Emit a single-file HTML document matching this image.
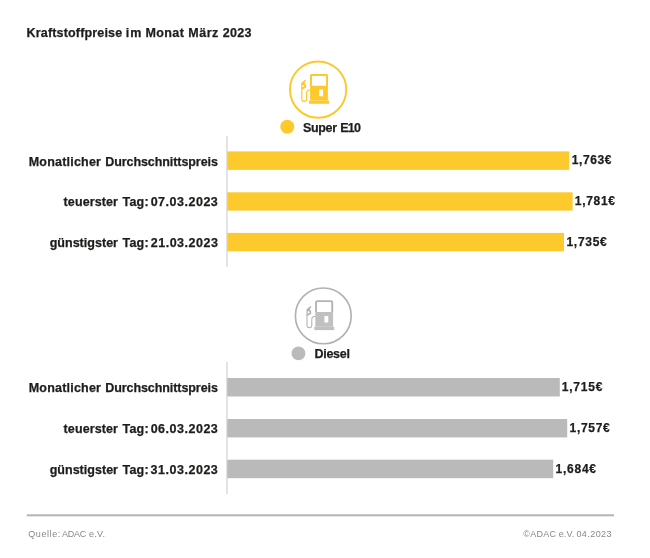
<!DOCTYPE html>
<html lang="de">
<head>
<meta charset="utf-8">
<title>Kraftstoffpreise im Monat März 2023</title>
<style>
html,body{margin:0;padding:0;background:#fff;}
body{width:650px;height:558px;position:relative;overflow:hidden;font-family:"Liberation Sans",sans-serif;color:#1d1d1b;}
.w{position:absolute;white-space:pre;font-weight:bold;line-height:1;font-size:12.5px;-webkit-text-stroke:0.25px #1d1d1b;}
.row,.title,.legend,.foot{position:static;margin:0;font-size:inherit;}
.w.vl{font-size:12.0px;}
.w.ft{font-weight:normal;font-size:9.0px;color:#888888;-webkit-text-stroke:0;}
svg{position:absolute;left:0;top:0;}
</style>
</head>
<body>
<h1 class="title"><span class="w ti" style="left:26.56px;top:27px;letter-spacing:0.167px">Kraftstoffpreise </span><span class="w ti" style="left:125.73px;top:27px;letter-spacing:1.151px">im </span><span class="w ti" style="left:145.46px;top:27px;letter-spacing:0.393px">Monat </span><span class="w ti" style="left:188.26px;top:27px;letter-spacing:0.514px">März </span><span class="w ti" style="left:222.85px;top:27px;letter-spacing:0.282px">2023 </span></h1>

<svg width="650" height="558" viewBox="0 0 650 558">
<rect x="226.200" y="136" width="1.500" height="131" fill="#dbdbde"/>
<rect x="226.200" y="362" width="1.500" height="132" fill="#dbdbde"/>
<g fill="#fdca2e">
<rect x="227.300" y="151.400" width="341.900" height="18.500"/>
<rect x="227.300" y="192.300" width="345.300" height="18.300"/>
<rect x="227.300" y="232.900" width="336.700" height="18.400"/>
<circle cx="287.300" cy="126.800" r="7.050"/>
</g>
<g fill="#bababa">
<rect x="227.300" y="378" width="332.500" height="18.500"/>
<rect x="227.300" y="419" width="339.900" height="18.400"/>
<rect x="227.300" y="459.700" width="325.900" height="18.500"/>
<circle cx="298.450" cy="353.400" r="6.950"/>
</g>
<rect x="26.800" y="514.300" width="587.200" height="2" fill="#b4b4b4"/>
<g transform="translate(318.1 89.6)">
<circle r="28.15" fill="none" stroke="#fdc72a" stroke-width="1.9"/>
<path fill="#fdca2e" fill-rule="evenodd" d="M-6.2 -15.500H8a1.800 1.800 0 0 1 1.800 1.800V10.900H-8V-13.700a1.800 1.800 0 0 1 1.800 -1.800zM-6.400 -13.900V-3.900H8.200V-13.900zM1.100 0V6.700H5V0z"/>
<path fill="#fdc72a" d="M-6.200 -15.500H8a1.800 1.800 0 0 1 1.800 1.800V-3.900H8.200V-13.900H-6.400V-3.900H-8V-13.700a1.800 1.800 0 0 1 1.800 -1.800z"/>
<rect x="-9" y="10.900" width="19.900" height="3.300" fill="#fdca2e"/>
<path fill="none" stroke="#fdc72a" stroke-width="1.15" stroke-linecap="round" stroke-linejoin="round" d="M-8 0.400C-10.600 0.400 -11.500 1.500 -11.500 3.600V9.400A2.400 2.400 0 0 1 -16.300 9.400V-1"/>
<path fill="#fdc72a" stroke="#fdc72a" stroke-width="1.15" stroke-linejoin="round" stroke-linecap="round" d="M-16.300 -1V-6L-15.600 -6.900L-12.600 -9.300L-14.200 -6.600L-12.600 -4.300V-2.400L-15 -1z"/>
<path fill="#fff" d="M-15.600 -4.700L-14.100 -4.700L-13.600 -3L-15.600 -2.200z"/>
</g>
<g transform="translate(323.3 315.9)">
<circle r="27.9" fill="none" stroke="#b2b2b2" stroke-width="1.65"/>
<path fill="#c0c0c0" fill-rule="evenodd" d="M-6.2 -15.500H8a1.800 1.800 0 0 1 1.800 1.800V10.900H-8V-13.700a1.800 1.800 0 0 1 1.800 -1.800zM-6.400 -13.900V-3.900H8.200V-13.900zM1.100 0V6.700H5V0z"/>
<path fill="#b2b2b2" d="M-6.200 -15.500H8a1.800 1.800 0 0 1 1.800 1.800V-3.900H8.200V-13.900H-6.400V-3.900H-8V-13.700a1.800 1.800 0 0 1 1.800 -1.800z"/>
<rect x="-9" y="10.900" width="19.900" height="3.300" fill="#c0c0c0"/>
<path fill="none" stroke="#b2b2b2" stroke-width="1.05" stroke-linecap="round" stroke-linejoin="round" d="M-8 0.400C-10.600 0.400 -11.500 1.500 -11.500 3.600V9.400A2.400 2.400 0 0 1 -16.300 9.400V-1"/>
<path fill="#b2b2b2" stroke="#b2b2b2" stroke-width="1.05" stroke-linejoin="round" stroke-linecap="round" d="M-16.300 -1V-6L-15.600 -6.900L-12.600 -9.300L-14.200 -6.600L-12.600 -4.300V-2.400L-15 -1z"/>
<path fill="#fff" d="M-15.600 -4.700L-14.100 -4.700L-13.600 -3L-15.600 -2.200z"/>
</g>
</svg>

<div class="legend"><span class="w lg" style="left:303.08px;top:122px;letter-spacing:-0.375px">Super </span><span class="w lg" style="left:340.26px;top:122px;letter-spacing:-0.800px">E10 </span><span class="w lg" style="left:314.56px;top:348px;letter-spacing:-0.295px">Diesel </span></div>

<div class="row"><span class="w lb" style="left:28.76px;top:156px;letter-spacing:0.206px">Monatlicher </span><span class="w lb" style="left:105.26px;top:156px;letter-spacing:-0.077px">Durchschnittspreis </span><span class="w lb" style="left:63.62px;top:196px;letter-spacing:0.095px">teuerster </span><span class="w lb" style="left:122.54px;top:196px;letter-spacing:0.186px">Tag: </span><span class="w lb" style="left:150.67px;top:196px;letter-spacing:0.510px">07.03.2023 </span><span class="w lb" style="left:49.65px;top:237px;letter-spacing:0.027px">günstigster </span><span class="w lb" style="left:122.54px;top:237px;letter-spacing:0.186px">Tag: </span><span class="w lb" style="left:150.75px;top:237px;letter-spacing:0.502px">21.03.2023 </span><span class="w lb" style="left:28.76px;top:382px;letter-spacing:0.206px">Monatlicher </span><span class="w lb" style="left:105.26px;top:382px;letter-spacing:-0.077px">Durchschnittspreis </span><span class="w lb" style="left:63.62px;top:423px;letter-spacing:0.095px">teuerster </span><span class="w lb" style="left:122.54px;top:423px;letter-spacing:0.186px">Tag: </span><span class="w lb" style="left:150.67px;top:423px;letter-spacing:0.510px">06.03.2023 </span><span class="w lb" style="left:49.65px;top:464px;letter-spacing:0.027px">günstigster </span><span class="w lb" style="left:122.54px;top:464px;letter-spacing:0.186px">Tag: </span><span class="w lb" style="left:150.57px;top:464px;letter-spacing:0.522px">31.03.2023 </span></div>

<div class="row"><span class="w vl" style="left:571.75px;top:154px;letter-spacing:0.611px">1,763€ </span><span class="w vl" style="left:574.85px;top:195px;letter-spacing:0.691px">1,781€ </span><span class="w vl" style="left:566.45px;top:236px;letter-spacing:0.731px">1,735€ </span><span class="w vl" style="left:561.75px;top:381px;letter-spacing:0.771px">1,715€ </span><span class="w vl" style="left:569.55px;top:422px;letter-spacing:0.691px">1,757€ </span><span class="w vl" style="left:555.45px;top:463px;letter-spacing:0.771px">1,684€ </span></div>

<div class="foot"><span class="w ft" style="left:28.31px;top:530px;letter-spacing:0.573px">Quelle: </span><span class="w ft" style="left:62.04px;top:530px;letter-spacing:-0.279px">ADAC </span><span class="w ft" style="left:88.98px;top:530px;letter-spacing:0.268px">e.V. </span></div>
<div class="foot"><span class="w ft" style="left:523.30px;top:530px;letter-spacing:0.263px">©ADAC </span><span class="w ft" style="left:558.68px;top:530px;letter-spacing:0.168px">e.V. </span><span class="w ft" style="left:576.38px;top:530px;letter-spacing:0.437px">04.2023 </span></div>
</body>
</html>
